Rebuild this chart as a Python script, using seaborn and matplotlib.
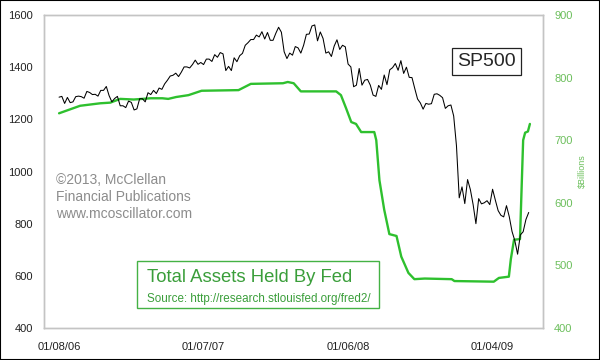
#!/usr/bin/env python3
import matplotlib
matplotlib.use("Agg")
import matplotlib.pyplot as plt
import matplotlib.dates as mdates
from matplotlib.patches import Rectangle
import seaborn as sns
import pandas as pd

# weekly SP500 closes, week starting 2006-01-08
sp500_values = [
    # 2006
    1285, 1288, 1261, 1284, 1264, 1267, 1287, 1289, 1287, 1281, 1307, 1303, 1295,
    1296, 1289, 1311, 1311, 1326, 1291, 1267, 1280, 1288, 1252, 1252, 1245, 1270,
    1265, 1236, 1240, 1279, 1279, 1267, 1302, 1295, 1311, 1299, 1320, 1315, 1336,
    1350, 1366, 1369, 1377, 1364, 1381, 1401, 1401, 1397, 1410, 1427, 1411, 1418,
    # 2007
    1410, 1431, 1431, 1422, 1448, 1438, 1456, 1451, 1387, 1403, 1387, 1436, 1421,
    1444, 1453, 1484, 1494, 1506, 1506, 1523, 1516, 1536, 1508, 1533, 1503, 1503,
    1530, 1553, 1534, 1459, 1433, 1454, 1446, 1479, 1474, 1454, 1484, 1526, 1527,
    1558, 1562, 1501, 1535, 1510, 1454, 1459, 1441, 1481, 1505, 1468, 1484, 1478,
    # 2008
    1412, 1401, 1325, 1331, 1395, 1331, 1350, 1353, 1331, 1293, 1288, 1330, 1315,
    1370, 1333, 1390, 1398, 1414, 1388, 1425, 1376, 1400, 1361, 1360, 1318, 1278,
    1263, 1239, 1261, 1258, 1260, 1296, 1298, 1292, 1283, 1242, 1252, 1255, 1213,
    1099, 899, 941, 877, 969, 931, 873, 800, 896, 876, 880, 888, 873,
    # 2009
    932, 890, 850, 832, 826, 869, 827, 770, 735, 683, 757, 769, 816, 843,
]
sp500_start = "2006-01-08"

# Fed holdings, $ billions, read at the turning points of the green line
fed_dates = [
    "2006-01-08", "2006-03-02", "2006-04-22", "2006-05-17", "2006-06-11",
    "2006-07-15", "2006-08-27", "2006-09-25", "2006-10-10", "2006-10-30",
    "2006-11-30", "2007-01-02", "2007-04-05", "2007-05-06", "2007-07-26",
    "2007-08-07", "2007-08-22", "2007-09-09", "2007-12-07", "2007-12-19",
    "2008-01-01", "2008-01-14", "2008-01-26", "2008-02-08", "2008-03-12",
    "2008-03-17", "2008-03-25", "2008-04-06", "2008-04-19", "2008-05-07",
    "2008-05-19", "2008-06-06", "2008-06-21", "2008-07-17", "2008-09-23",
    "2008-09-30", "2009-01-07", "2009-01-20", "2009-02-14", "2009-02-19",
    "2009-02-27", "2009-03-14", "2009-03-22", "2009-03-27", "2009-04-03",
    "2009-04-08",
]
fed_values = [
    743, 755, 759, 760, 766,
    765, 767, 767, 766, 769,
    772, 779, 780, 790, 791,
    793, 791, 778, 778, 772,
    751, 729, 726, 713, 713,
    700, 636, 589, 550, 547,
    514, 488, 478, 479, 478,
    475, 474, 480, 482, 510,
    541, 542, 700, 712, 714,
    726,
]

left_ticks = [400, 600, 800, 1000, 1200, 1400, 1600]
right_ticks = [400, 500, 600, 700, 800, 900]
x_ticks = ["2006-01-08", "2007-01-07", "2008-01-06", "2009-01-04"]

sp_df = pd.DataFrame({
    "date": pd.date_range(sp500_start, periods=len(sp500_values), freq="W-SUN"),
    "sp500": sp500_values,
})
fed_df = pd.DataFrame({"date": pd.to_datetime(fed_dates), "fed": fed_values})

sns.set_theme(style="white")
plt.rcParams["font.family"] = ["Liberation Sans", "DejaVu Sans"]

green = "#2ec02e"
label_green = "#6cbf5c"
text_green = "#3a9e3a"
spine_grey = "#c4c4c4"

fig = plt.figure(figsize=(6, 3.6), dpi=100)
ax = fig.add_axes([0.0733, 0.0889, 0.8317, 0.8694])
ax2 = ax.twinx()

sns.lineplot(data=fed_df, x="date", y="fed", ax=ax2, color=green, linewidth=1.7)
sns.lineplot(data=sp_df, x="date", y="sp500", ax=ax, color="black", linewidth=0.75)

# SP500 drawn over the fed line
ax.set_zorder(ax2.get_zorder() + 1)
ax.patch.set_visible(False)

ax.set_ylim(400, 1600)
ax.set_yticks(left_ticks)
ax2.set_ylim(400, 900)
ax2.set_yticks(right_ticks)
ax.set_xlim(pd.Timestamp("2005-12-01"), pd.Timestamp("2009-05-11"))
ax.set_xticks(pd.to_datetime(x_ticks))
ax.xaxis.set_major_formatter(mdates.DateFormatter("%m/%d/%y"))

ax.set_xlabel("")
ax.set_ylabel("")
ax2.set_xlabel("")
ax2.set_ylabel("$Billions", color=label_green, fontsize=6.5, labelpad=4)

ax.tick_params(axis="both", length=0, labelsize=8, colors="#222222")
ax.tick_params(axis="y", pad=8)
ax.tick_params(axis="x", pad=10)
ax2.tick_params(axis="y", length=0, labelsize=8, colors=label_green, pad=8)

for a in (ax, ax2):
    for sp in a.spines.values():
        sp.set_color(spine_grey)
        sp.set_linewidth(1.0)

# SP500 label box
ax.text(0.887, 0.851, "SP500", transform=ax.transAxes, fontsize=14,
        ha="center", va="center",
        bbox=dict(boxstyle="square,pad=0.25", facecolor="white", edgecolor="#222222", linewidth=0.9))

# copyright note
ax.text(0.024, 0.495, "\u00a92013, McClellan\nFinancial Publications\nwww.mcoscillator.com",
        transform=ax.transAxes, fontsize=10, color="#8c8c8c", ha="left", va="top",
        linespacing=1.25)

# title box
fig_w, fig_h = 600, 360
fig.patches.append(Rectangle((137 / fig_w, 1 - 308 / fig_h), 242 / fig_w, 47 / fig_h,
                             transform=fig.transFigure, fill=False,
                             edgecolor="#44b244", linewidth=1.0, zorder=5))
fig.text(147 / fig_w, 1 - 277 / fig_h, "Total Assets Held By Fed", fontsize=13.3,
         color=text_green, ha="left", va="center")
fig.text(147 / fig_w, 1 - 299 / fig_h, "Source: http://research.stlouisfed.org/fred2/",
         fontsize=8.4, color=text_green, ha="left", va="center")

# image border
fig.patches.append(Rectangle((0, 0), 1, 1, transform=fig.transFigure, fill=False,
                             edgecolor="black", linewidth=1.5))

fig.savefig("out.png", dpi=100)
